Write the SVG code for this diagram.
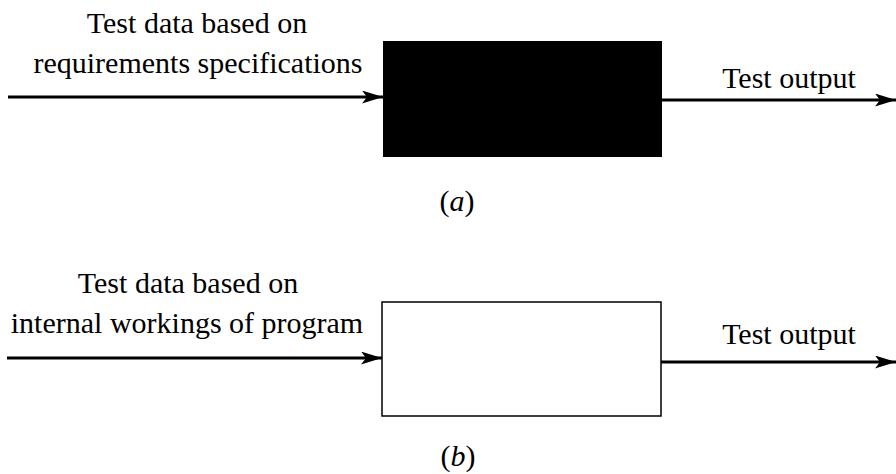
<svg xmlns="http://www.w3.org/2000/svg" width="896" height="474" viewBox="0 0 896 474">
  <style>
    text { font-family: "Liberation Serif", "Times New Roman", serif; font-size: 30px; fill: #000; }
    .mid { text-anchor: middle; }
    .cap { font-style: italic; }
    .wire { stroke: #000; stroke-width: 3; fill: none; }
  </style>
  <defs>
    <marker id="arrow" viewBox="0 0 21 13" refX="21" refY="6.5" markerWidth="21" markerHeight="13" markerUnits="userSpaceOnUse" orient="auto">
      <path d="M0,0 L21,6.5 L0,13 L5,6.5 Z" fill="#000"/>
    </marker>
  </defs>

  <!-- (a) black box -->
  <g id="black-box">
    <rect x="383" y="41" width="279" height="116" fill="#000"/>
  </g>
  <g id="label-a-input">
    <text class="mid" x="197" y="33">Test data based on</text>
    <text class="mid" x="198" y="73">requirements specifications</text>
  </g>
  <g id="label-a-output">
    <text class="mid" x="789" y="88">Test output</text>
  </g>
  <g id="caption-a">
    <text class="mid" x="457" y="211">(<tspan class="cap">a</tspan>)</text>
  </g>

  <!-- (b) white box -->
  <g id="white-box">
    <rect x="382" y="302" width="279" height="114" fill="#fff" stroke="#000" stroke-width="1.5"/>
  </g>
  <g id="label-b-input">
    <text class="mid" x="188" y="293">Test data based on</text>
    <text class="mid" x="187" y="333">internal workings of program</text>
  </g>
  <g id="label-b-output">
    <text class="mid" x="789" y="344">Test output</text>
  </g>
  <g id="caption-b">
    <text class="mid" x="458" y="466">(<tspan class="cap">b</tspan>)</text>
  </g>

  <!-- connectors -->
  <g id="connectors">
    <line class="wire" x1="8" y1="97" x2="383" y2="97" marker-end="url(#arrow)"/>
    <line class="wire" x1="662" y1="100" x2="896" y2="100" marker-end="url(#arrow)"/>
    <line class="wire" x1="7" y1="358" x2="382" y2="358" marker-end="url(#arrow)"/>
    <line class="wire" x1="661" y1="362" x2="896" y2="362" marker-end="url(#arrow)"/>
  </g>
</svg>
